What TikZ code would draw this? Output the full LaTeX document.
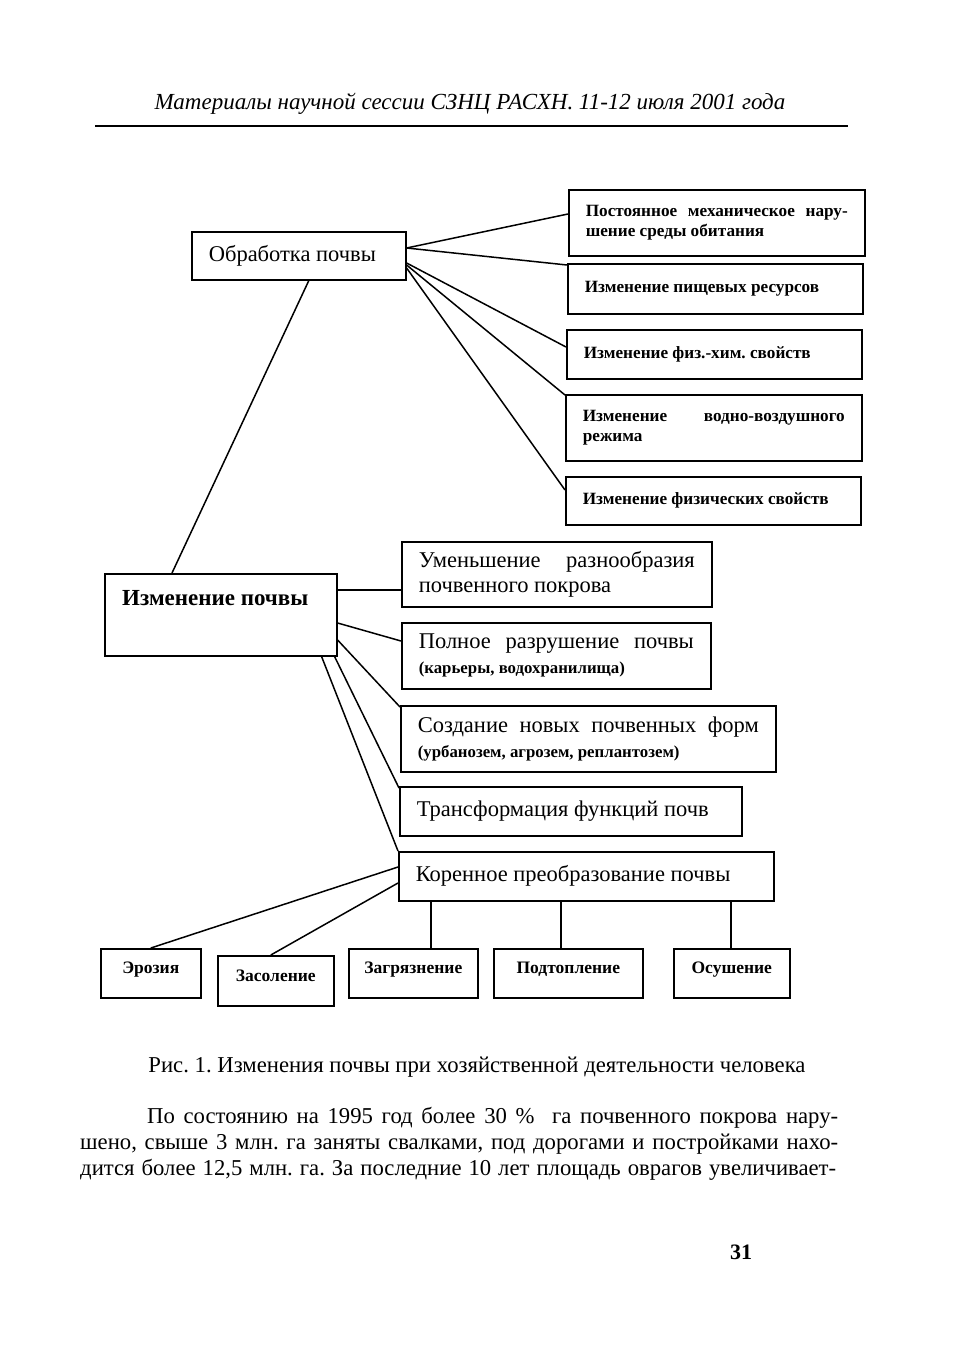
\documentclass[tikz,border=0pt]{standalone}
\usepackage{fontspec}
\setmainfont{Liberation Serif}
\usetikzlibrary{calc}
\newcommand{\jline}[1]{\makebox[\linewidth][s]{#1}}

\begin{document}
\frenchspacing
\begin{tikzpicture}[x=1pt, y=-1pt,
    box/.style={draw, line width=1.6pt, anchor=north west, inner xsep=17pt, inner ysep=0pt, align=flush left},
    small/.style={box, font=\fontsize{17.2}{20}\selectfont\bfseries},
    big/.style={box, font=\fontsize{22.5}{25}\selectfont},
    leaf/.style={draw, line width=1.6pt, anchor=north west, inner sep=0pt, text height=13pt, text depth=12pt, align=center, font=\fontsize{17.5}{19}\selectfont\bfseries},
    txt/.style={inner sep=0pt, font=\fontsize{22.7}{26}\selectfont},
    link/.style={line width=1.5pt}]

    \useasboundingbox (0,0) rectangle (959,1348);

    \node[txt, font=\fontsize{23}{26}\selectfont\itshape] (head) at (470,104) {Материалы научной сессии СЗНЦ РАСХН. 11-12 июля 2001 года};
    \draw[line width=2pt] (95,126) -- (848,126);

    \node[big, text width=180pt, minimum height=48pt] (obr) at (191,231) {Обработка почвы};

    \node[small, text width=262pt, minimum height=66pt] (mech) at (568,189) {\jline{Постоянное механическое нару-}\\шение среды обитания};
    \node[small, text width=261pt, minimum height=50pt] (food) at (567,263) {Изменение пищевых ресурсов};
    \node[small, text width=261pt, minimum height=49pt] (chem) at (566,329) {Изменение физ.-хим. свойств};
    \node[small, text width=262pt, minimum height=66pt] (water) at (565,394) {\jline{Изменение водно-воздушного}\\режима};
    \node[small, text width=261pt, minimum height=48pt] (phys) at (565,476) {Изменение физических свойств};

    \node[draw, line width=1.6pt, anchor=north west, minimum width=232pt, minimum height=82pt, inner sep=0pt] (ism) at (104,573) {};
    \node[txt, anchor=west, font=\fontsize{23}{26}\selectfont\bfseries] (ismtext) at ([shift={(18,25)}]ism.north west) {Изменение почвы};

    \node[big, text width=276pt, minimum height=65pt] (div) at (401,541) {\jline{Уменьшение разнообразия}\\почвенного покрова};
    \node[big, text width=275pt, minimum height=66pt] (dest) at (401,622) {\jline{Полное разрушение почвы}\\{\fontsize{16.8}{18}\selectfont\bfseries (карьеры, водохранилища)}};
    \node[big, text width=341pt, minimum height=66pt] (newf) at (400,705) {\jline{Создание новых почвенных форм}\\{\fontsize{16.8}{18}\selectfont\bfseries (урбанозем, агрозем, реплантозем)}};
    \node[big, text width=308pt, minimum height=49pt] (trans) at (399,786) {Трансформация функций почв};
    \node[big, text width=341pt, minimum height=49pt] (root) at (398,851) {Коренное преобразование почвы};

    \node[leaf, minimum width=100pt, minimum height=49pt] (eros) at (100,948) {Эрозия};
    \node[leaf, minimum width=116pt, minimum height=50pt] (salt) at (217,955) {Засоление};
    \node[leaf, minimum width=129pt, minimum height=49pt] (poll) at (348,948) {Загрязнение};
    \node[leaf, minimum width=149pt, minimum height=49pt] (flood) at (493,948) {Подтопление};
    \node[leaf, minimum width=116pt, minimum height=49pt] (drain) at (673,948) {Осушение};

    \draw[link] ([yshift=-17pt]obr.north east) -- ([yshift=-25pt]mech.north west);
    \draw[link] ([yshift=-17pt]obr.north east) -- ([yshift=-2pt]food.north west);
    \draw[link] ([yshift=-32pt]obr.north east) -- ([yshift=-18pt]chem.north west);
    \draw[link] ([yshift=-34pt]obr.north east) -- ([yshift=-1pt]water.north west);
    \draw[link] ([yshift=-37pt]obr.north east) -- ([yshift=-14pt]phys.north west);
    \draw[link] ([xshift=10pt]obr.south) -- ([xshift=68pt]ism.north west);

    \draw[link] ([yshift=-17pt]ism.north east) -- ([yshift=-17pt]ism.north east -| div.west);
    \draw[link] ([yshift=-50pt]ism.north east) -- ([yshift=-19pt]dest.north west);
    \draw[link] ([yshift=-67pt]ism.north east) -- ([yshift=-2pt]newf.north west);
    \draw[link] ([xshift=-3pt]ism.south east) -- ([yshift=-2pt]trans.north west);
    \draw[link] ([xshift=-16pt]ism.south east) -- (root.north west);

    \draw[link] ([yshift=-16pt]root.north west) -- (eros.north);
    \draw[link] ([yshift=-32pt]root.north west) -- ([xshift=-5pt]salt.north);
    \draw[link] ([xshift=33pt]root.south west) -- ([xshift=33pt]root.south west |- poll.north);
    \draw[link] ([xshift=163pt]root.south west) -- ([xshift=163pt]root.south west |- flood.north);
    \draw[link] ([xshift=333pt]root.south west) -- ([xshift=333pt]root.south west |- drain.north);

    \node[txt] (cap) at (477,1067) {Рис. 1. Изменения почвы при хозяйственной деятельности человека};
    \node[txt, anchor=west] (par1) at (147,1118) {\makebox[691pt][s]{По состоянию на 1995 год более 30 \%\ \ га почвенного покрова нару-}};
    \node[txt, anchor=west] (par2) at (80,1144) {\makebox[758pt][s]{шено, свыше 3 млн. га заняты свалками, под дорогами и постройками нахо-}};
    \node[txt, anchor=west] (par3) at (80,1170) {\makebox[756pt][s]{дится более 12,5 млн. га. За последние 10 лет площадь оврагов увеличивает-}};
    \node[txt, font=\fontsize{22}{26}\selectfont\bfseries] (page) at (741,1252) {31};
\end{tikzpicture}
\end{document}
